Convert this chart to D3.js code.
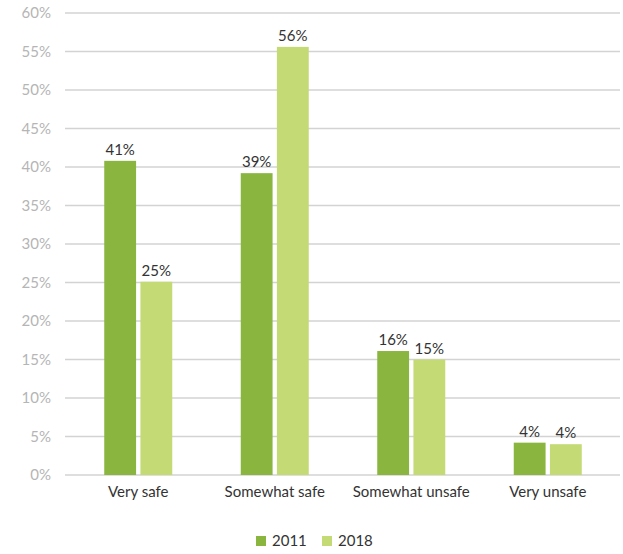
<!DOCTYPE html>
<html><head><meta charset="utf-8">
<script src="https://cdn.jsdelivr.net/npm/d3@7"></script>
<style>body{margin:0;background:#fff;}svg{display:block;font-family:Lato, "Open Sans", sans-serif;}</style>
</head><body>
<svg id="c" width="623" height="554"></svg>
<script>
const categories = ["Very safe", "Somewhat safe", "Somewhat unsafe", "Very unsafe"];
const seriesNames = ["2011", "2018"];
const values2011 = [40.8, 39.2, 16.1, 4.2];
const values2018 = [25.1, 55.6, 15.0, 4.0];
const labels2011 = ["41%", "39%", "16%", "4%"];
const labels2018 = ["25%", "56%", "15%", "4%"];
const yTicks = [0, 5, 10, 15, 20, 25, 30, 35, 40, 45, 50, 55, 60];
const colors = ["#8ab53f", "#c3da75"];

const svg = d3.select("#c");
const y = d3.scaleLinear().domain([0, 60]).range([475, 13]);
const x0 = d3.scaleBand().domain(categories).range([70, 616]);
const x1 = d3.scaleBand().domain(seriesNames).range([x0.bandwidth()/2 - 34, x0.bandwidth()/2 + 34]).paddingInner(0.12);

// gridlines
svg.append("g").selectAll("line").data(yTicks).join("line")
  .attr("x1", 65).attr("x2", 620)
  .attr("y1", d => y(d)).attr("y2", d => y(d))
  .attr("stroke", "#d3d3d3").attr("stroke-width", 1.3);

// y labels
svg.append("g").selectAll("text").data(yTicks).join("text")
  .attr("x", 51).attr("y", d => y(d)).attr("dy", "0.35em")
  .attr("text-anchor", "end").attr("fill", "#b5b5b5").attr("font-size", 15)
  .text(d => d + "%");

const data = [];
categories.forEach((c, i) => {
  data.push({c, s: "2011", v: values2011[i], l: labels2011[i], col: colors[0]});
  data.push({c, s: "2018", v: values2018[i], l: labels2018[i], col: colors[1]});
});

const g = svg.append("g");
g.selectAll("rect").data(data).join("rect")
  .attr("x", d => x0(d.c) + x1(d.s)).attr("width", x1.bandwidth())
  .attr("y", d => y(d.v)).attr("height", d => y(0) - y(d.v))
  .attr("fill", d => d.col);

g.selectAll("text.lbl").data(data).join("text").attr("class", "lbl")
  .attr("x", d => x0(d.c) + x1(d.s) + x1.bandwidth()/2)
  .attr("y", d => y(d.v) - 6)
  .attr("text-anchor", "middle").attr("fill", "#333").attr("font-size", 15)
  .text(d => d.l);

// category labels
svg.append("g").selectAll("text").data(categories).join("text")
  .attr("x", d => x0(d) + x0.bandwidth()/2).attr("y", 497)
  .attr("text-anchor", "middle").attr("fill", "#333").attr("font-size", 15)
  .text(d => d);

// legend
const lx = [256, 322];
const lg = svg.append("g").selectAll("g").data(seriesNames).join("g")
  .attr("transform", (d, i) => `translate(${lx[i]},536)`);
lg.append("rect").attr("width", 10).attr("height", 10).attr("fill", (d, i) => colors[i]);
lg.append("text").attr("x", 16).attr("y", 10).attr("fill", "#333").attr("font-size", 15).text(d => d);
</script>
</body></html>
